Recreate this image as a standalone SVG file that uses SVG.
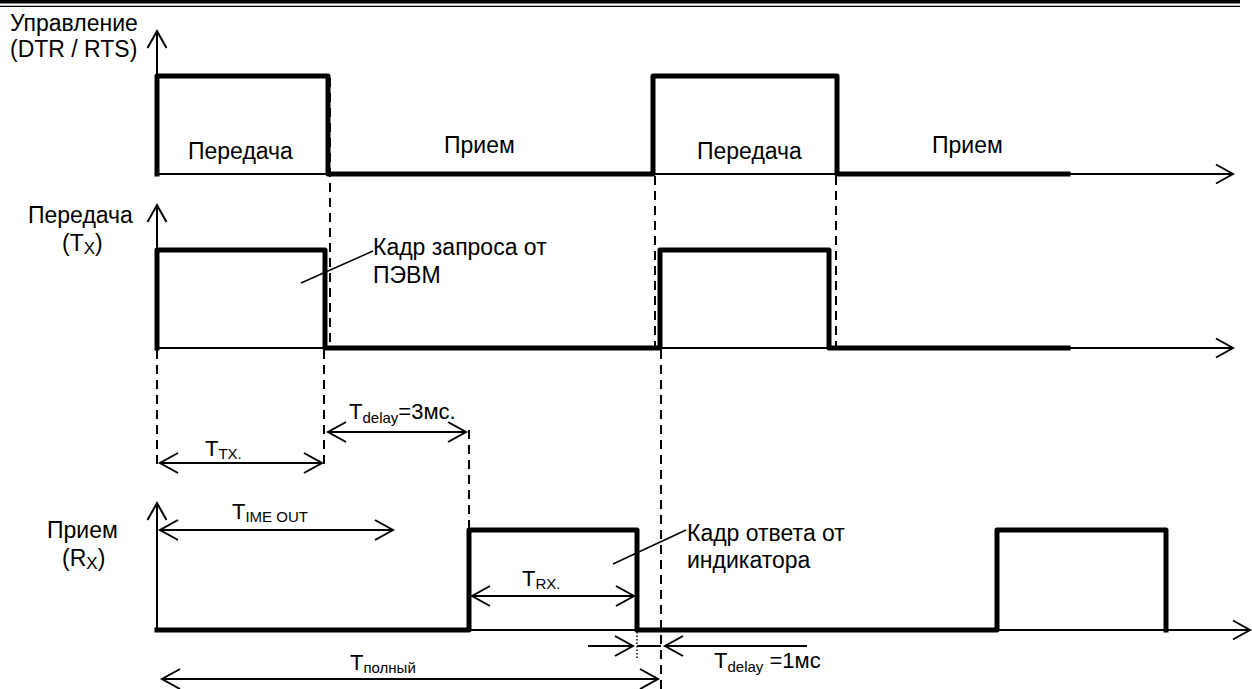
<svg xmlns="http://www.w3.org/2000/svg" width="1252" height="689" viewBox="0 0 1252 689">
<style>
text{font-family:"Liberation Sans",Arial,sans-serif;font-size:23px;fill:#000}
.dim{font-size:22px}
.sub{font-size:15px}
.ax{stroke:#000;stroke-width:2;fill:none}
.sig{stroke:#000;stroke-width:5;fill:none;stroke-linejoin:round;stroke-linecap:square}
.dash{stroke:#000;stroke-width:2;stroke-dasharray:9,6;fill:none}
.dot{stroke:#000;stroke-width:1.5;stroke-dasharray:1.5,2;fill:none}
.arr{stroke:#000;stroke-width:2;fill:none}
.lead{stroke:#000;stroke-width:1.5;fill:none}
</style>
<defs>
<marker id="ah" markerUnits="userSpaceOnUse" markerWidth="24" markerHeight="24" viewBox="-20 -12 24 24" refX="0" refY="0" orient="auto-start-reverse" overflow="visible">
<path d="M-18,-10 L0,0 L-18,10" fill="none" stroke="#000" stroke-width="2"/>
</marker>
<marker id="axh" markerUnits="userSpaceOnUse" markerWidth="24" markerHeight="24" viewBox="-20 -12 24 24" refX="0" refY="0" orient="auto" overflow="visible">
<path d="M-17,-9.5 L0,0 L-17,9.5" fill="none" stroke="#000" stroke-width="2"/>
</marker>
</defs>

<g id="header">
<line x1="0" y1="1.7" x2="1240" y2="1.7" stroke="#000" stroke-width="3.5"/>
<line x1="0" y1="6.3" x2="1240" y2="6.3" stroke="#000" stroke-width="1.3"/>
</g>

<g id="control">
<line class="ax" x1="157" y1="174" x2="157" y2="31" marker-end="url(#axh)"/>
<line class="ax" x1="157" y1="174" x2="1233" y2="174" marker-end="url(#axh)"/>
<path class="sig" d="M157,174 V76 H328 V174 H653 V76 H837 V174 H1068"/>
<text x="10" y="31">Управление</text>
<text x="10" y="57">(DTR / RTS)</text>
<text x="188" y="159">Передача</text>
<text x="444" y="153">Прием</text>
<text x="697" y="159">Передача</text>
<text x="932" y="153">Прием</text>
</g>

<g id="transmit">
<line class="ax" x1="157" y1="348" x2="157" y2="205" marker-end="url(#axh)"/>
<line class="ax" x1="157" y1="348" x2="1233" y2="348" marker-end="url(#axh)"/>
<path class="sig" d="M157,348 V250 H325 V348 H660 V250 H829 V348 H1068"/>
<text x="28" y="223">Передача</text>
<text x="62" y="251">(T<tspan font-size="17" dy="3">X</tspan><tspan dy="-3">)</tspan></text>
<text x="373" y="255">Кадр запроса от</text>
<text x="373" y="283">ПЭВМ</text>
<line class="lead" x1="373" y1="251" x2="301" y2="283"/>
</g>

<g id="receive">
<line class="ax" x1="157" y1="630" x2="157" y2="503" marker-end="url(#axh)"/>
<line class="ax" x1="157" y1="630" x2="1250" y2="630" marker-end="url(#axh)"/>
<path class="sig" d="M157,630 H469 V530 H637 V630 H997 V530 H1166 V630"/>
<text x="47" y="538">Прием</text>
<text x="62" y="566">(R<tspan font-size="17" dy="3">X</tspan><tspan dy="-3">)</tspan></text>
<text x="687" y="541">Кадр ответа от</text>
<text x="687" y="568">индикатора</text>
<line class="lead" x1="686" y1="530" x2="613" y2="564"/>
</g>

<g id="connectors">
<line class="dash" x1="330" y1="78" x2="330" y2="348"/>
<line class="dash" x1="324" y1="350" x2="324" y2="466"/>
<line class="dash" x1="157" y1="350" x2="157" y2="466"/>
<line class="dash" x1="655" y1="176" x2="655" y2="348"/>
<line class="dash" x1="661" y1="350" x2="661" y2="689"/>
<line class="dash" x1="836" y1="176" x2="836" y2="348"/>
<line class="dash" x1="469" y1="430" x2="469" y2="530"/>
<line class="dot" x1="637" y1="632" x2="637" y2="660"/>

<line class="arr" x1="160" y1="463" x2="322" y2="463" marker-start="url(#ah)" marker-end="url(#ah)"/>
<line class="arr" x1="328" y1="432" x2="466" y2="432" marker-start="url(#ah)" marker-end="url(#ah)"/>
<line class="arr" x1="160" y1="530" x2="393" y2="530" marker-start="url(#ah)" marker-end="url(#ah)"/>
<line class="arr" x1="472" y1="596" x2="634" y2="596" marker-start="url(#ah)" marker-end="url(#ah)"/>
<line class="arr" x1="162" y1="679" x2="658" y2="679" marker-start="url(#ah)" marker-end="url(#ah)"/>
<line class="arr" x1="588" y1="646" x2="633" y2="646" marker-end="url(#ah)"/>
<line class="arr" x1="637" y1="646" x2="661" y2="646"/>
<line class="arr" x1="807" y1="646" x2="665" y2="646" marker-end="url(#ah)"/>
</g>

<g id="labels">
<text class="dim" x="205" y="456">T<tspan class="sub" dy="3">TX.</tspan></text>
<text class="dim" x="349" y="419">T<tspan class="sub" dy="4">delay</tspan><tspan dy="-4">=3мс.</tspan></text>
<text class="dim" x="232" y="519">T<tspan class="sub" dy="3">IME OUT</tspan></text>
<text class="dim" x="522" y="586">T<tspan class="sub" dy="3">RX.</tspan></text>
<text class="dim" x="714" y="668">T<tspan class="sub" dy="4">delay</tspan><tspan dy="-4"> =1мс</tspan></text>
<text class="dim" x="350" y="670">T<tspan class="sub" dy="3">полный</tspan></text>
</g>
</svg>
